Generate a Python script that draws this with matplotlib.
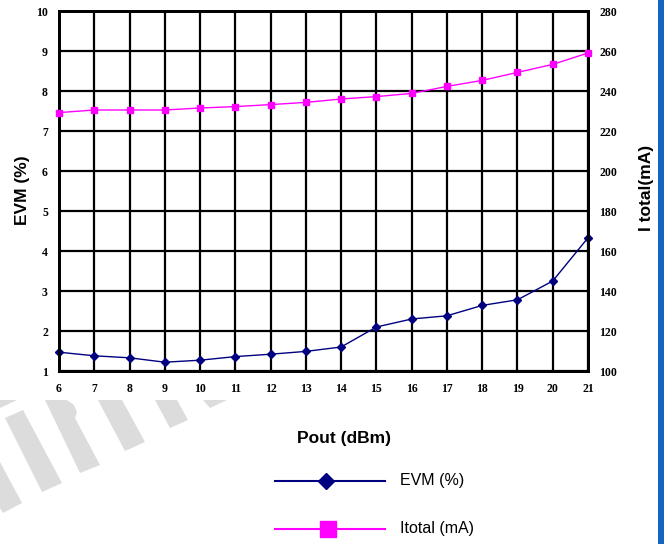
import matplotlib
matplotlib.use('Agg')
import matplotlib.pyplot as plt
import matplotlib.transforms as mtransforms
from matplotlib.patches import Polygon, Rectangle
from matplotlib.lines import Line2D

# data
pout = [6, 7, 8, 9, 10, 11, 12, 13, 14, 15, 16, 17, 18, 19, 20, 21]
evm = [1.47, 1.38, 1.33, 1.22, 1.27, 1.36, 1.42, 1.49, 1.60, 2.10, 2.30, 2.38,
       2.64, 2.78, 3.25, 4.33]
itotal = [229.2, 230.5, 230.5, 230.5, 231.5, 232.2, 233.2, 234.3, 236.0, 237.2,
          238.8, 242.3, 245.3, 249.3, 253.3, 259.0]
evm_ticks = list(range(1, 11))
i_ticks = list(range(100, 281, 20))

W, H = 664, 544
fig = plt.figure(figsize=(W / 100, H / 100), dpi=100)
px = mtransforms.Affine2D().scale(1 / W, -1 / H).translate(0, 1) + fig.transFigure

# grey watermark stripes, lower left
grey = '#dcdcdc'
stripes = [
    [(0, 400), (17, 400), (0, 408)],
    [(0, 462), (22, 503), (3, 513), (0, 508)],
    [(5, 418), (23, 410), (62, 483), (42, 492)],
    [(45, 400), (67, 400), (74, 405), (77, 412), (75, 418), (100, 465), (80, 473)],
    [(98, 400), (122, 400), (145, 442), (125, 451)],
    [(155, 400), (177, 400), (188, 420), (170, 428)],
    [(203, 400), (227, 400), (210, 408)],
]
for s in stripes:
    fig.patches.append(Polygon(s, closed=True, transform=px, color=grey, lw=0, zorder=0))

# blue bar on right edge
fig.patches.append(Rectangle((658, 0), 6, H, transform=px, color='#1565C0', lw=0, zorder=0))

left, right, top, bottom = 59, 588, 11, 371
ax = fig.add_axes([left / W, 1 - bottom / H, (right - left) / W, (bottom - top) / H])
ax.set_zorder(2)

tick_font = {'family': 'Liberation Serif', 'weight': 'bold', 'size': 8.5}
lab_font = {'family': 'Liberation Sans', 'weight': 'bold', 'size': 12.5}

ax.plot(pout, evm, color='#000080', lw=1, marker='D', ms=4.5, zorder=5, clip_on=False)
ax.set_xlim(6, 21)
ax.set_ylim(1, 10)
ax.set_xticks(pout)
ax.set_yticks(evm_ticks)
ax.set_xticklabels([str(v) for v in pout], fontdict=tick_font)
ax.set_yticklabels([str(v) for v in evm_ticks], fontdict=tick_font)
ax.grid(True, color='black', lw=1.6)
ax.set_axisbelow(True)
for sp in ax.spines.values():
    sp.set_linewidth(2)
ax.tick_params(axis='both', length=0)
ax.tick_params(axis='x', pad=9)
ax.tick_params(axis='y', pad=8)

ax2 = ax.twinx()
ax2.plot(pout, itotal, color='#FF00FF', lw=1, marker='s', ms=5, zorder=5, clip_on=False)
ax2.set_ylim(100, 280)
ax2.set_yticks(i_ticks)
ax2.set_yticklabels([str(v) for v in i_ticks], fontdict=tick_font)
ax2.tick_params(axis='y', length=0, pad=8)
for sp in ax2.spines.values():
    sp.set_linewidth(2)

fig.text(22 / W, 1 - 190 / H, 'EVM (%)', rotation=90, ha='center', va='center', **lab_font)
fig.text(647 / W, 1 - 188 / H, 'I total(mA)', rotation=90, ha='center', va='center', **lab_font)
fig.text(344 / W, 1 - 438 / H, 'Pout (dBm)', ha='center', va='center', **lab_font)

# legend drawn below the chart
leg_font = {'family': 'Liberation Sans', 'size': 11.5}
fig.add_artist(Line2D([275 / W, 385 / W], [1 - 481 / H] * 2, color='#000080', lw=1.5))
fig.add_artist(Line2D([326 / W], [1 - 481 / H], color='#000080', marker='D', ms=8, lw=0))
fig.text(400 / W, 1 - 481 / H, 'EVM (%)', ha='left', va='center', **leg_font)
fig.add_artist(Line2D([275 / W, 385 / W], [1 - 529 / H] * 2, color='#FF00FF', lw=1.5))
fig.add_artist(Line2D([328 / W], [1 - 529 / H], color='#FF00FF', marker='s', ms=11, lw=0))
fig.text(400 / W, 1 - 529 / H, 'Itotal (mA)', ha='left', va='center', **leg_font)

fig.savefig('out.png', dpi=100)
